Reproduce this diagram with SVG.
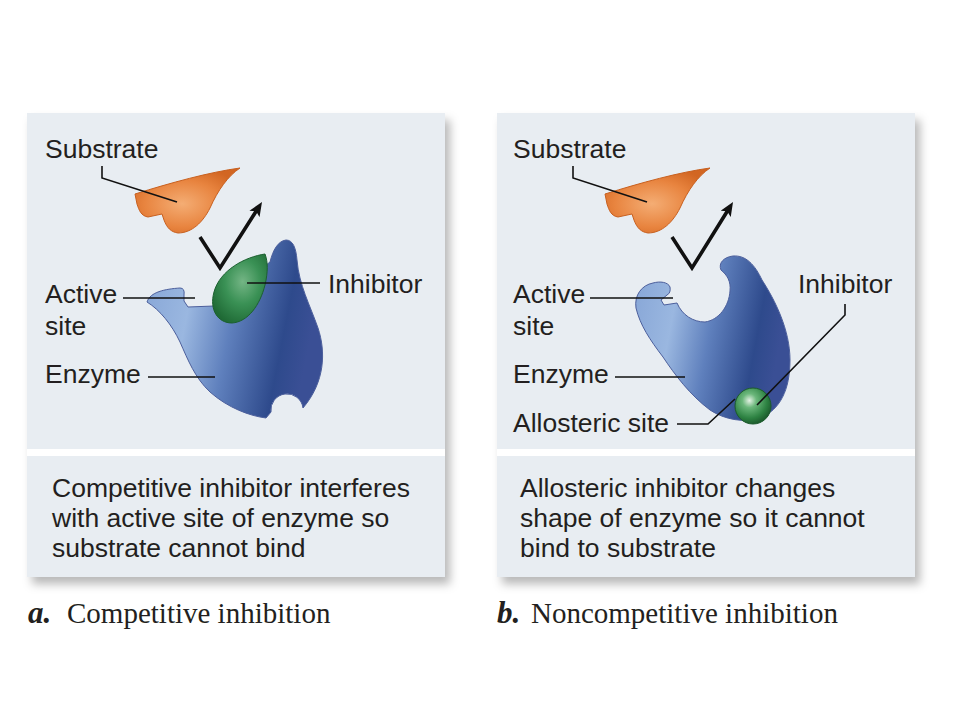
<svg xmlns="http://www.w3.org/2000/svg" width="960" height="720" viewBox="0 0 960 720">
<defs>
<style>
.lbl{font-family:"Liberation Sans",Arial,sans-serif;font-size:26.5px;fill:#231f20}
.cap{font-family:"Liberation Serif","Times New Roman",serif;font-size:29px;fill:#231f20}
.capb{font-family:"Liberation Serif","Times New Roman",serif;font-size:31px;font-weight:bold;font-style:italic;fill:#231f20}
.lead{fill:none;stroke:#111;stroke-width:1.6}
.arr{fill:none;stroke:#111;stroke-width:3.6;stroke-linejoin:miter}
.panel{fill:#e8edf2}
.div{fill:#ffffff}
.enz{fill:url(#gEnz);stroke:#4c5f9c;stroke-width:1}
.sub{fill:url(#gSub);stroke:#c8601f;stroke-width:1}
.inh{fill:url(#gInh);stroke:#1c6030;stroke-width:1}
.ball{fill:url(#gBall);stroke:#1b5a2c;stroke-width:1}
</style>
<filter id="sh" x="-10%" y="-10%" width="125%" height="125%">
<feDropShadow dx="5" dy="7" stdDeviation="5" flood-color="#000" flood-opacity="0.28"/>
</filter>
<linearGradient id="gEnz" x1="0" y1="0" x2="1" y2="0.2">
<stop offset="0" stop-color="#86a5d6"/>
<stop offset="0.3" stop-color="#9ab7e0"/>
<stop offset="0.55" stop-color="#5f80bd"/>
<stop offset="0.85" stop-color="#2e4a8c"/>
<stop offset="1" stop-color="#3a4f95"/>
</linearGradient>
<radialGradient id="gSub" cx="0.45" cy="0.55" r="0.6">
<stop offset="0" stop-color="#f4ad74"/>
<stop offset="0.6" stop-color="#e8843f"/>
<stop offset="1" stop-color="#d26622"/>
</radialGradient>
<radialGradient id="gInh" cx="0.55" cy="0.4" r="0.65">
<stop offset="0" stop-color="#74b585"/>
<stop offset="0.5" stop-color="#3a9155"/>
<stop offset="1" stop-color="#1f6a35"/>
</radialGradient>
<radialGradient id="gBall" cx="0.4" cy="0.35" r="0.65">
<stop offset="0" stop-color="#e4f1e4"/>
<stop offset="0.3" stop-color="#6bb77b"/>
<stop offset="0.75" stop-color="#2d8242"/>
<stop offset="1" stop-color="#1d5e2e"/>
</radialGradient>
<marker id="ah" viewBox="0 0 14 12" refX="6" refY="6" markerWidth="14" markerHeight="12" markerUnits="userSpaceOnUse" orient="auto">
<path d="M0,0 L14,6 L0,12 L3,6 Z" fill="#111"/>
</marker>
</defs>
<rect width="960" height="720" fill="#ffffff"/>

<g id="panel-a">
<rect class="panel" x="27" y="113" width="418" height="464" filter="url(#sh)"/>
<rect class="div" x="27" y="449" width="418" height="7"/>
</g>
<g id="panel-b">
<rect class="panel" x="497" y="113" width="418" height="464" filter="url(#sh)"/>
<rect class="div" x="497" y="449" width="418" height="7"/>
</g>

<g id="substrate-a">
<path class="sub" d="M135,194 C170,183 210,172 240,168 C228,176 218,190 210,208 C203,222 192,233 178,233 C171,232 167,228 164,220 L162,214 L148,217 C141,216 139,210 137,204 Z"/>
</g>
<g id="enzyme-a">
<path class="enz" d="M147,302 C150,292 165,289 180,288 Q185,288 184,295 L184,301 L188,307 L214,306 L240,285 L270,262 C273,250 278,241 286,240 C293,240 296,248 297,260 C299,285 310,305 318,328 C326,352 325,382 303,408 A16,16 0 1 0 271,412 L266,418 C250,416 228,408 210,392 C195,378 188,360 180,342 C172,325 160,310 147,302 Z"/>
</g>
<g id="inhibitor-a">
<path class="inh" d="M265,254 C245,257 220,270 214,292 C209,310 218,323 232,323 C248,322 260,305 265,285 C268,272 268,262 265,254 Z"/>
</g>

<g id="substrate-b">
<path class="sub" transform="translate(470,0)" d="M135,194 C170,183 210,172 240,168 C228,176 218,190 210,208 C203,222 192,233 178,233 C171,232 167,228 164,220 L162,214 L148,217 C141,216 139,210 137,204 Z"/>
</g>
<g id="enzyme-b">
<path class="enz" d="M653,283 C660,281 668,282 670,287 Q671,293 667,295 L661,300 L664,305 L677,303 C682,315 693,322 705,322 C719,320 729,306 730,291 C731,281 727,275 721,270 C718,263 724,257 733,256 C746,255 755,265 762,280 C775,300 790,330 790,360 C790,390 780,410 760,418 C745,423 725,420 710,410 C690,395 675,375 663,357 C650,340 640,325 636,308 C634,295 642,285 653,283 Z"/>
</g>
<g id="inhibitor-b">
<circle class="ball" cx="753" cy="406" r="18"/>
</g>

<g id="connectors">
<polyline class="arr" points="200,237 220,268 257.7,208.8" marker-end="url(#ah)"/>
<polyline class="arr" points="672,237 692,268 728.8,208.8" marker-end="url(#ah)"/>
<polyline class="lead" points="102,166 102,178 177,202"/>
<polyline class="lead" points="123,298 195,298"/>
<polyline class="lead" points="148,377 215,377"/>
<polyline class="lead" points="320,283 247,283"/>
<polyline class="lead" points="573,166 573,178 647,202"/>
<polyline class="lead" points="590,298 673,298"/>
<polyline class="lead" points="615,377 685,377"/>
<polyline class="lead" points="845,304 845,315 757,405"/>
<polyline class="lead" points="677,424 708,424 735,399"/>
</g>

<g id="labels-a">
<text class="lbl" x="45" y="158">Substrate</text>
<text class="lbl" x="45" y="303">Active</text>
<text class="lbl" x="45" y="335">site</text>
<text class="lbl" x="45" y="383">Enzyme</text>
<text class="lbl" x="328" y="293">Inhibitor</text>
<text class="lbl" x="52" y="497">Competitive inhibitor interferes</text>
<text class="lbl" x="52" y="527">with active site of enzyme so</text>
<text class="lbl" x="52" y="557">substrate cannot bind</text>
<text class="capb" x="28" y="623">a.</text>
<text class="cap" x="67" y="623">Competitive inhibition</text>
</g>
<g id="labels-b">
<text class="lbl" x="513" y="158">Substrate</text>
<text class="lbl" x="513" y="303">Active</text>
<text class="lbl" x="513" y="335">site</text>
<text class="lbl" x="513" y="383">Enzyme</text>
<text class="lbl" x="513" y="432">Allosteric site</text>
<text class="lbl" x="798" y="293">Inhibitor</text>
<text class="lbl" x="520" y="497">Allosteric inhibitor changes</text>
<text class="lbl" x="520" y="527">shape of enzyme so it cannot</text>
<text class="lbl" x="520" y="557">bind to substrate</text>
<text class="capb" x="497" y="623">b.</text>
<text class="cap" x="531" y="623">Noncompetitive inhibition</text>
</g>
</svg>
